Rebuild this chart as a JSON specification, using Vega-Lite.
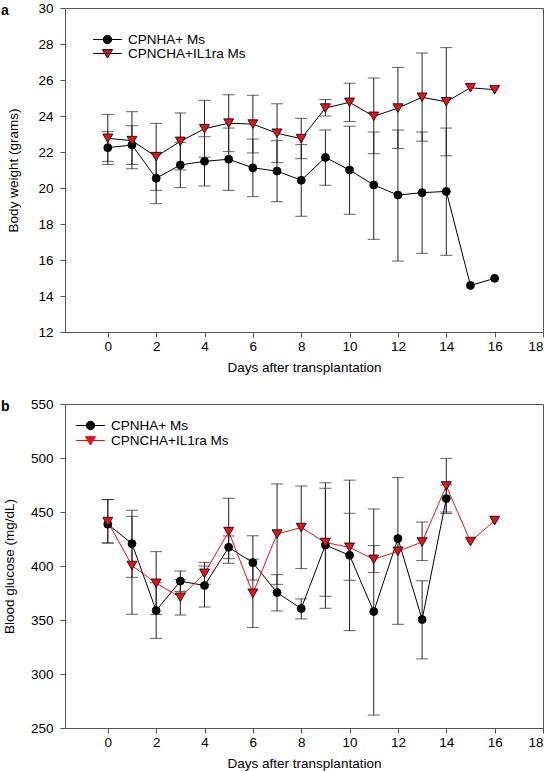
{
  "$schema": "https://vega.github.io/schema/vega-lite/v6.json",
  "padding": {"left": 0, "top": 0, "right": 0, "bottom": 0},
  "autosize": {"type": "pad"},
  "background": "white",
  "config": {
    "font": "Liberation Sans",
    "view": {"stroke": "#555", "strokeWidth": 1},
    "axis": {"grid": false, "labelFontSize": 13.5, "titleFontSize": 13.5, "titleFontWeight": "normal", "labelColor": "black", "titleColor": "black", "domainColor": "#555", "tickColor": "#555", "tickSize": 5},
    "legend": {"labelFontSize": 13.5, "labelColor": "black", "padding": 0}
  },
  "datasets": {
    "weight": [
      {"series": "CPNHA+ Ms", "day": 0, "mean": 22.24, "lo": 21.31, "hi": 23.13},
      {"series": "CPNHA+ Ms", "day": 1, "mean": 22.39, "lo": 21.31, "hi": 23.46},
      {"series": "CPNHA+ Ms", "day": 2, "mean": 20.54, "lo": 19.13, "hi": 21.95},
      {"series": "CPNHA+ Ms", "day": 3, "mean": 21.28, "lo": 20.02, "hi": 22.54},
      {"series": "CPNHA+ Ms", "day": 4, "mean": 21.48, "lo": 20.11, "hi": 22.85},
      {"series": "CPNHA+ Ms", "day": 5, "mean": 21.6, "lo": 19.87, "hi": 23.33},
      {"series": "CPNHA+ Ms", "day": 6, "mean": 21.12, "lo": 19.52, "hi": 22.72},
      {"series": "CPNHA+ Ms", "day": 7, "mean": 20.94, "lo": 19.24, "hi": 22.63},
      {"series": "CPNHA+ Ms", "day": 8, "mean": 20.43, "lo": 18.43, "hi": 22.41},
      {"series": "CPNHA+ Ms", "day": 9, "mean": 21.7, "lo": 20.15, "hi": 23.22},
      {"series": "CPNHA+ Ms", "day": 10, "mean": 21.0, "lo": 18.54, "hi": 23.43},
      {"series": "CPNHA+ Ms", "day": 11, "mean": 20.17, "lo": 17.15, "hi": 23.11},
      {"series": "CPNHA+ Ms", "day": 12, "mean": 19.61, "lo": 15.94, "hi": 23.22},
      {"series": "CPNHA+ Ms", "day": 13, "mean": 19.74, "lo": 16.37, "hi": 23.11},
      {"series": "CPNHA+ Ms", "day": 14, "mean": 19.81, "lo": 16.26, "hi": 23.33},
      {"series": "CPNHA+ Ms", "day": 15, "mean": 14.59, "lo": null, "hi": null},
      {"series": "CPNHA+ Ms", "day": 16, "mean": 14.98, "lo": null, "hi": null},
      {"series": "CPNCHA+IL1ra Ms", "day": 0, "mean": 22.76, "lo": 21.48, "hi": 24.09},
      {"series": "CPNCHA+IL1ra Ms", "day": 1, "mean": 22.63, "lo": 21.07, "hi": 24.24},
      {"series": "CPNCHA+IL1ra Ms", "day": 2, "mean": 21.74, "lo": 19.87, "hi": 23.59},
      {"series": "CPNCHA+IL1ra Ms", "day": 3, "mean": 22.59, "lo": 21.01, "hi": 24.17},
      {"series": "CPNCHA+IL1ra Ms", "day": 4, "mean": 23.29, "lo": 21.71, "hi": 24.87},
      {"series": "CPNCHA+IL1ra Ms", "day": 5, "mean": 23.6, "lo": 22.02, "hi": 25.18},
      {"series": "CPNCHA+IL1ra Ms", "day": 6, "mean": 23.55, "lo": 21.95, "hi": 25.15},
      {"series": "CPNCHA+IL1ra Ms", "day": 7, "mean": 23.04, "lo": 21.41, "hi": 24.68},
      {"series": "CPNCHA+IL1ra Ms", "day": 8, "mean": 22.74, "lo": 21.63, "hi": 23.87},
      {"series": "CPNCHA+IL1ra Ms", "day": 9, "mean": 24.44, "lo": 24.0, "hi": 24.91},
      {"series": "CPNCHA+IL1ra Ms", "day": 10, "mean": 24.76, "lo": 23.7, "hi": 25.82},
      {"series": "CPNCHA+IL1ra Ms", "day": 11, "mean": 23.98, "lo": 21.91, "hi": 26.11},
      {"series": "CPNCHA+IL1ra Ms", "day": 12, "mean": 24.44, "lo": 22.2, "hi": 26.7},
      {"series": "CPNCHA+IL1ra Ms", "day": 13, "mean": 25.04, "lo": 22.6, "hi": 27.5},
      {"series": "CPNCHA+IL1ra Ms", "day": 14, "mean": 24.79, "lo": 21.79, "hi": 27.8},
      {"series": "CPNCHA+IL1ra Ms", "day": 15, "mean": 25.57, "lo": null, "hi": null},
      {"series": "CPNCHA+IL1ra Ms", "day": 16, "mean": 25.46, "lo": null, "hi": null}
    ],
    "glucose": [
      {"series": "CPNHA+ Ms", "day": 0, "mean": 438.6, "lo": 421.3, "hi": 461.5},
      {"series": "CPNHA+ Ms", "day": 1, "mean": 420.7, "lo": 389.5, "hi": 451.6},
      {"series": "CPNHA+ Ms", "day": 2, "mean": 358.7, "lo": 333, "hi": 384.5},
      {"series": "CPNHA+ Ms", "day": 3, "mean": 386, "lo": 376.5, "hi": 395.4},
      {"series": "CPNHA+ Ms", "day": 4, "mean": 381.9, "lo": 362, "hi": 400},
      {"series": "CPNHA+ Ms", "day": 5, "mean": 417.3, "lo": 406.8, "hi": 427.8},
      {"series": "CPNHA+ Ms", "day": 6, "mean": 403.1, "lo": 387, "hi": 428},
      {"series": "CPNHA+ Ms", "day": 7, "mean": 375.4, "lo": 358.4, "hi": 392},
      {"series": "CPNHA+ Ms", "day": 8, "mean": 360.6, "lo": 351, "hi": 369.5},
      {"series": "CPNHA+ Ms", "day": 9, "mean": 419.4, "lo": 360.8, "hi": 477},
      {"series": "CPNHA+ Ms", "day": 10, "mean": 409.9, "lo": 340.2, "hi": 479.5},
      {"series": "CPNHA+ Ms", "day": 11, "mean": 357.8, "lo": 262, "hi": 452.8},
      {"series": "CPNHA+ Ms", "day": 12, "mean": 425.4, "lo": 346, "hi": 482},
      {"series": "CPNHA+ Ms", "day": 13, "mean": 350.4, "lo": 314, "hi": 386.3},
      {"series": "CPNHA+ Ms", "day": 14, "mean": 462.4, "lo": 450, "hi": 475},
      {"series": "CPNCHA+IL1ra Ms", "day": 0, "mean": 441.1, "lo": 421.3, "hi": 461.5},
      {"series": "CPNCHA+IL1ra Ms", "day": 1, "mean": 400.4, "lo": 355.3, "hi": 446},
      {"series": "CPNCHA+IL1ra Ms", "day": 2, "mean": 384, "lo": 355, "hi": 413.3},
      {"series": "CPNCHA+IL1ra Ms", "day": 3, "mean": 371, "lo": 354.6, "hi": 387.4},
      {"series": "CPNCHA+IL1ra Ms", "day": 4, "mean": 393.2, "lo": 383, "hi": 403.4},
      {"series": "CPNCHA+IL1ra Ms", "day": 5, "mean": 431.8, "lo": 402.5, "hi": 462.7},
      {"series": "CPNCHA+IL1ra Ms", "day": 6, "mean": 374.7, "lo": 343, "hi": 406.4},
      {"series": "CPNCHA+IL1ra Ms", "day": 7, "mean": 429.6, "lo": 383, "hi": 476},
      {"series": "CPNCHA+IL1ra Ms", "day": 8, "mean": 435.6, "lo": 397.6, "hi": 474.1},
      {"series": "CPNCHA+IL1ra Ms", "day": 9, "mean": 421.7, "lo": 372, "hi": 472},
      {"series": "CPNCHA+IL1ra Ms", "day": 10, "mean": 417.3, "lo": 386.8, "hi": 448.8},
      {"series": "CPNCHA+IL1ra Ms", "day": 11, "mean": 406.2, "lo": 393.9, "hi": 418.9},
      {"series": "CPNCHA+IL1ra Ms", "day": 12, "mean": 413.6, "lo": null, "hi": null},
      {"series": "CPNCHA+IL1ra Ms", "day": 13, "mean": 422.2, "lo": 405, "hi": 440.7},
      {"series": "CPNCHA+IL1ra Ms", "day": 14, "mean": 474.1, "lo": 448.5, "hi": 499.7},
      {"series": "CPNCHA+IL1ra Ms", "day": 15, "mean": 422.6, "lo": null, "hi": null},
      {"series": "CPNCHA+IL1ra Ms", "day": 16, "mean": 442, "lo": null, "hi": null}
    ]
  },
  "columns": 1,
  "spacing": 21,
  "resolve": {"scale": {"x": "independent", "y": "independent", "stroke": "independent"}, "legend": {"stroke": "independent"}},
  "concat": [
    {
      "width": 478,
      "height": 324,
      "title": {"text": "a", "anchor": "start", "frame": "group", "dx": -64, "offset": -28, "baseline": "alphabetic", "fontSize": 14, "fontWeight": "bold", "color": "black"},
      "data": {"name": "weight"},
      "encoding": {
        "x": {"field": "day", "type": "quantitative", "scale": {"domain": [-1.77, 18], "nice": false, "zero": false}, "axis": {"title": "Days after transplantation", "values": [0, 2, 4, 6, 8, 10, 12, 14, 16, 18], "labelPadding": 2, "titlePadding": 8}},
        "y": {"field": "mean", "type": "quantitative", "scale": {"domain": [12, 30], "nice": false, "zero": false}, "axis": {"title": "Body weight (grams)", "values": [12, 14, 16, 18, 20, 22, 24, 26, 28, 30], "labelPadding": 7, "titlePadding": 17}}
      },
      "layer": [
        {
          "transform": [{"filter": "datum.lo != null"}],
          "mark": {"type": "errorbar", "ticks": {"size": 12, "thickness": 1, "color": "#222"}, "rule": {"color": "#222", "strokeWidth": 1}},
          "encoding": {
            "y": {"field": "lo", "type": "quantitative", "scale": {"domain": [12, 30], "nice": false, "zero": false}, "axis": {"title": "Body weight (grams)", "values": [12, 14, 16, 18, 20, 22, 24, 26, 28, 30], "labelPadding": 7, "titlePadding": 17}},
            "y2": {"field": "hi"}
          }
        },
        {
          "mark": {"type": "line", "strokeWidth": 1},
          "encoding": {
            "stroke": {"field": "series", "type": "nominal", "scale": {"domain": ["CPNHA+ Ms", "CPNCHA+IL1ra Ms"], "range": ["black", "black"]},
              "legend": {"orient": "none", "legendX": 35, "legendY": 24, "title": null, "symbolSize": 196, "labelOffset": 13, "rowPadding": 0, "labelFontSize": 13.5,
                "encode": {"symbols": {"update": {
                  "shape": {"signal": "datum.value === 'CPNHA+ Ms' ? 'M-2.05,0L2.05,0M0.6,0A0.6,0.6,0,1,1,-0.6,0A0.6,0.6,0,1,1,0.6,0Z' : 'M-2.05,0L2.05,0M-0.72,-0.55L0.72,-0.55L0,0.65Z'"},
                  "fill": {"signal": "datum.value === 'CPNHA+ Ms' ? 'black' : '#e8101a'"},
                  "stroke": {"value": "black"},
                  "strokeWidth": {"value": 1},
                  "opacity": {"value": 1},
                  "fillOpacity": {"value": 1}
                }}}
              }
            }
          }
        },
        {
          "transform": [{"filter": "datum.series === 'CPNHA+ Ms'"}],
          "mark": {"type": "point", "shape": "circle", "filled": true, "opacity": 1, "fill": "black", "stroke": "black", "strokeWidth": 0.8, "size": 64}
        },
        {
          "transform": [{"filter": "datum.series === 'CPNCHA+IL1ra Ms'"}],
          "mark": {"type": "point", "shape": "triangle-down", "filled": true, "opacity": 1, "fill": "#e8101a", "stroke": "black", "strokeWidth": 0.8, "size": 100}
        }
      ]
    },
    {
      "width": 478,
      "height": 324,
      "title": {"text": "b", "anchor": "start", "frame": "group", "dx": -64, "offset": -28, "baseline": "alphabetic", "fontSize": 14, "fontWeight": "bold", "color": "black"},
      "data": {"name": "glucose"},
      "encoding": {
        "x": {"field": "day", "type": "quantitative", "scale": {"domain": [-1.77, 18], "nice": false, "zero": false}, "axis": {"title": "Days after transplantation", "values": [0, 2, 4, 6, 8, 10, 12, 14, 16, 18], "labelPadding": 2, "titlePadding": 8}},
        "y": {"field": "mean", "type": "quantitative", "scale": {"domain": [250, 550], "nice": false, "zero": false}, "axis": {"title": "Blood glucose (mg/dL)", "values": [250, 300, 350, 400, 450, 500, 550], "labelPadding": 7, "titlePadding": 14}}
      },
      "layer": [
        {
          "transform": [{"filter": "datum.lo != null"}],
          "mark": {"type": "errorbar", "ticks": {"size": 12, "thickness": 1, "color": "#222"}, "rule": {"color": "#222", "strokeWidth": 1}},
          "encoding": {
            "y": {"field": "lo", "type": "quantitative", "scale": {"domain": [250, 550], "nice": false, "zero": false}, "axis": {"title": "Blood glucose (mg/dL)", "values": [250, 300, 350, 400, 450, 500, 550], "labelPadding": 7, "titlePadding": 14}},
            "y2": {"field": "hi"}
          }
        },
        {
          "mark": {"type": "line", "strokeWidth": 1},
          "encoding": {
            "stroke": {"field": "series", "type": "nominal", "scale": {"domain": ["CPNHA+ Ms", "CPNCHA+IL1ra Ms"], "range": ["black", "#e8101a"]},
              "legend": {"orient": "none", "legendX": 18, "legendY": 14, "title": null, "symbolSize": 196, "labelOffset": 13, "rowPadding": 1, "labelFontSize": 13.5,
                "encode": {"symbols": {"update": {
                  "shape": {"signal": "datum.value === 'CPNHA+ Ms' ? 'M-2.05,0L2.05,0M0.6,0A0.6,0.6,0,1,1,-0.6,0A0.6,0.6,0,1,1,0.6,0Z' : 'M-2.05,0L2.05,0M-0.72,-0.55L0.72,-0.55L0,0.65Z'"},
                  "fill": {"signal": "datum.value === 'CPNHA+ Ms' ? 'black' : '#e8101a'"},
                  "stroke": {"signal": "datum.value === 'CPNHA+ Ms' ? 'black' : '#e8101a'"},
                  "strokeWidth": {"value": 1},
                  "opacity": {"value": 1},
                  "fillOpacity": {"value": 1}
                }}}
              }
            }
          }
        },
        {
          "transform": [{"filter": "datum.series === 'CPNHA+ Ms'"}],
          "mark": {"type": "point", "shape": "circle", "filled": true, "opacity": 1, "fill": "black", "stroke": "black", "strokeWidth": 0.8, "size": 64}
        },
        {
          "transform": [{"filter": "datum.series === 'CPNCHA+IL1ra Ms'"}],
          "mark": {"type": "point", "shape": "triangle-down", "filled": true, "opacity": 1, "fill": "#e8101a", "stroke": "black", "strokeWidth": 0.8, "size": 100}
        }
      ]
    }
  ]
}
